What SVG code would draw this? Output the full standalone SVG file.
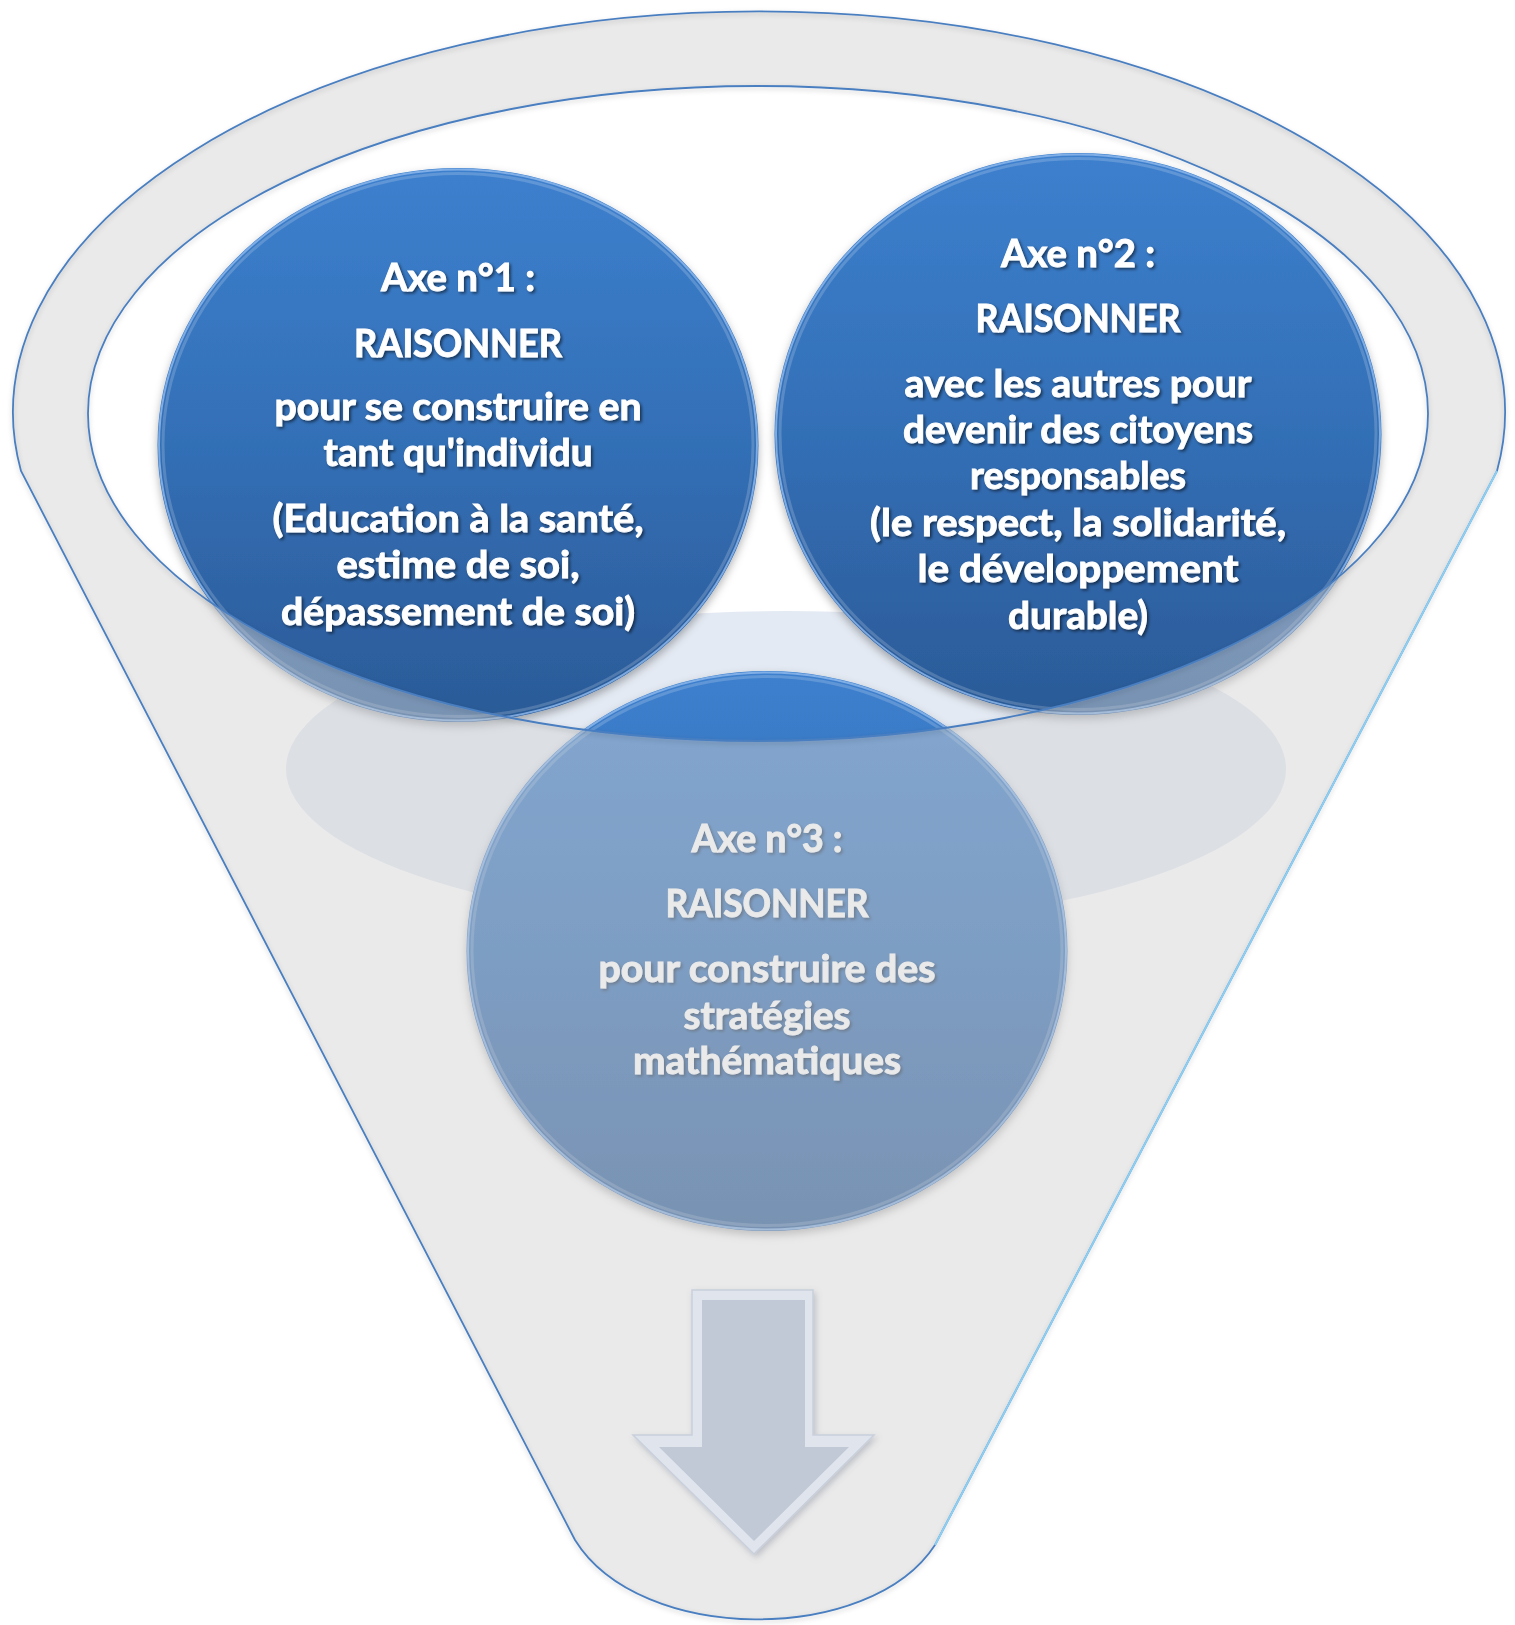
<svg xmlns="http://www.w3.org/2000/svg" width="1515" height="1625" viewBox="0 0 1515 1625">
<defs>
<linearGradient id="gBlue" x1="0" y1="0" x2="0" y2="1">
<stop offset="0" stop-color="#3d80ce"/>
<stop offset="0.5" stop-color="#336fb6"/>
<stop offset="1" stop-color="#2b5a97"/>
</linearGradient>
<filter id="ts" x="-10%" y="-30%" width="120%" height="160%">
<feDropShadow dx="1.8" dy="1.8" stdDeviation="1.4" flood-color="#000" flood-opacity="0.55"/>
</filter>
<filter id="cs" x="-10%" y="-10%" width="120%" height="125%">
<feDropShadow dx="0" dy="4" stdDeviation="4" flood-color="#000" flood-opacity="0.3"/>
</filter>
<filter id="fs" x="-5%" y="-5%" width="110%" height="110%">
<feDropShadow dx="0" dy="2" stdDeviation="2.5" flood-color="#000" flood-opacity="0.2"/>
</filter>
<filter id="as" x="-20%" y="-10%" width="140%" height="125%">
<feDropShadow dx="2" dy="3" stdDeviation="3" flood-color="#6a7384" flood-opacity="0.35"/>
</filter>
<style>
.t{font-family:Lato,"Open Sans","Liberation Sans",sans-serif;font-weight:700;font-size:38px;fill:#ffffff;stroke:#ffffff;stroke-width:0.9px;text-anchor:middle;filter:url(#ts)}
.disc{fill:url(#gBlue);filter:url(#cs)}
.rim{fill:none;stroke:#8cb6ea;stroke-width:2;stroke-opacity:0.85}
.rim2{fill:none;stroke:#ffffff;stroke-width:3;stroke-opacity:0.18}
.edge{fill:none;stroke:#4a7fc0;stroke-width:1.8}
</style>
</defs>
<rect x="0" y="0" width="1515" height="1625" fill="#ffffff"/>

<g id="liquid">
<ellipse cx="786" cy="769" rx="500" ry="158" fill="#e4eaf3"/>
</g>

<g id="node-axe3">
<ellipse class="disc" cx="767" cy="951" rx="300.5" ry="280"/>
<ellipse class="rim" cx="767" cy="951" rx="299" ry="278.5"/>
<ellipse class="rim2" cx="767" cy="951" rx="295" ry="274.5"/>
<text class="t" x="767" y="852" textLength="151" lengthAdjust="spacingAndGlyphs">Axe n°3 :</text>
<text class="t" x="767" y="917" textLength="203" lengthAdjust="spacingAndGlyphs">RAISONNER</text>
<text class="t" x="767" y="982" textLength="337" lengthAdjust="spacingAndGlyphs">pour construire des</text>
<text class="t" x="767" y="1029" textLength="167" lengthAdjust="spacingAndGlyphs">stratégies</text>
<text class="t" x="767" y="1074" textLength="268" lengthAdjust="spacingAndGlyphs">mathématiques</text>
</g>

<g id="node-axe1">
<ellipse class="disc" cx="458" cy="445" rx="300.5" ry="277"/>
<ellipse class="rim" cx="458" cy="445" rx="299" ry="275.5"/>
<ellipse class="rim2" cx="458" cy="445" rx="295" ry="271.5"/>
<text class="t" x="458" y="291" textLength="154" lengthAdjust="spacingAndGlyphs">Axe n°1 :</text>
<text class="t" x="458" y="357" textLength="208" lengthAdjust="spacingAndGlyphs">RAISONNER</text>
<text class="t" x="458" y="420" textLength="367" lengthAdjust="spacingAndGlyphs">pour se construire en</text>
<text class="t" x="458" y="466" textLength="269" lengthAdjust="spacingAndGlyphs">tant qu'individu</text>
<text class="t" x="458" y="532" textLength="371" lengthAdjust="spacingAndGlyphs">(Education à la santé,</text>
<text class="t" x="458" y="578" textLength="243" lengthAdjust="spacingAndGlyphs">estime de soi,</text>
<text class="t" x="458" y="625" textLength="354" lengthAdjust="spacingAndGlyphs">dépassement de soi)</text>
</g>

<g id="node-axe2">
<ellipse class="disc" cx="1078" cy="434" rx="303.5" ry="281"/>
<ellipse class="rim" cx="1078" cy="434" rx="302" ry="279.5"/>
<ellipse class="rim2" cx="1078" cy="434" rx="298" ry="275.5"/>
<text class="t" x="1078" y="267" textLength="154" lengthAdjust="spacingAndGlyphs">Axe n°2 :</text>
<text class="t" x="1078" y="332" textLength="205" lengthAdjust="spacingAndGlyphs">RAISONNER</text>
<text class="t" x="1078" y="397" textLength="347" lengthAdjust="spacingAndGlyphs">avec les autres pour</text>
<text class="t" x="1078" y="443" textLength="350" lengthAdjust="spacingAndGlyphs">devenir des citoyens</text>
<text class="t" x="1078" y="489" textLength="216" lengthAdjust="spacingAndGlyphs">responsables</text>
<text class="t" x="1078" y="536" textLength="416" lengthAdjust="spacingAndGlyphs">(le respect, la solidarité,</text>
<text class="t" x="1078" y="582" textLength="321" lengthAdjust="spacingAndGlyphs">le développement</text>
<text class="t" x="1078" y="629" textLength="140" lengthAdjust="spacingAndGlyphs">durable)</text>
</g>

<g id="funnel">
<path d="M 21 471 A 746 401 0 1 1 1497 471 L 935 1545 C 870 1645 640 1645 575 1540 Z M 88 413.5 A 670 327.5 0 1 0 1428 413.5 A 670 327.5 0 1 0 88 413.5 Z" fill="#d2d2d2" fill-opacity="0.47" fill-rule="evenodd"/>
<path class="edge" filter="url(#fs)" d="M 21 471 A 746 401 0 1 1 1497 471 L 935 1545 C 870 1645 640 1645 575 1540 Z"/>
<line x1="1497" y1="471" x2="935" y2="1545" stroke="#8ccff2" stroke-width="2"/>
<ellipse class="edge" filter="url(#fs)" cx="758" cy="413.5" rx="670" ry="327.5"/>
</g>

<g id="connectors">
<g filter="url(#as)">
<polygon points="692,1290 813,1290 813,1435 874,1435 754,1554 633,1435 692,1435" fill="#e0e5ed" stroke="#c9d0dc" stroke-width="1.5"/>
<polygon points="702,1300 805,1300 805,1447 849,1447 754,1541 659,1447 702,1447" fill="#c1c9d7"/>
</g>
</g>
</svg>
